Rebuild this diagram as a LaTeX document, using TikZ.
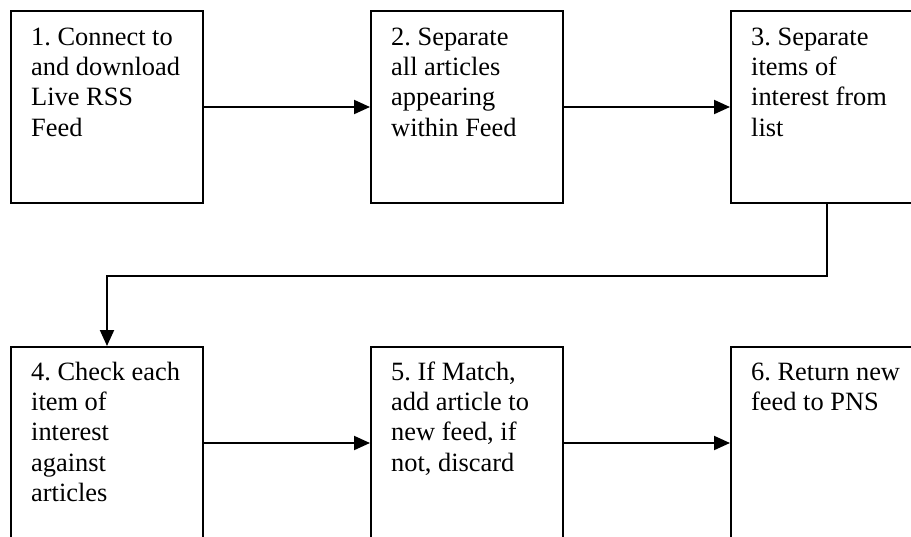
\documentclass[tikz,border=0pt]{standalone}
\usepackage{fontspec}
\setmainfont{Liberation Serif}
\usetikzlibrary{arrows.meta}
\frenchspacing

\tikzset{
  stepbox/.style={draw, line width=2pt, minimum width=192pt, minimum height=192pt,
    inner sep=0pt, anchor=north west},
  steptext/.style={anchor=base west, inner sep=0pt, align=left,
    font=\fontsize{26.4}{30.4}\selectfont},
  flow/.style={line width=2pt, -{Triangle[length=16pt,width=14pt]}}
}

\begin{document}
\begin{tikzpicture}[x=1pt, y=-1pt]
  \useasboundingbox (0,0) rectangle (911,536);
  \clip (0,0) rectangle (911,536);

  % boxes of the process
  \node[stepbox] (b1) at (10,10) {};
  \node[stepbox] (b2) at (370,10) {};
  \node[stepbox] (b3) at (730,10) {};
  \node[stepbox] (b4) at (10,346) {};
  \node[stepbox] (b5) at (370,346) {};
  \node[stepbox] (b6) at (730,346) {};

  % step descriptions (anchored at the baseline of their last line)
  \node[steptext] (t1) at ([xshift=21pt, yshift=-126.2pt]b1.north west) {1. Connect to\\and download\\Live RSS\\Feed};
  \node[steptext] (t2) at ([xshift=21pt, yshift=-126.2pt]b2.north west) {2. Separate\\all articles\\appearing\\within Feed};
  \node[steptext] (t3) at ([xshift=21pt, yshift=-126.2pt]b3.north west) {3. Separate\\items of\\interest from\\list};
  \node[steptext] (t4) at ([xshift=21pt, yshift=-155.6pt]b4.north west) {4. Check each\\item of\\interest\\against\\articles};
  \node[steptext] (t5) at ([xshift=21pt, yshift=-125.2pt]b5.north west) {5. If Match,\\add article to\\new feed, if\\not, discard};
  \node[steptext] (t6) at ([xshift=21pt, yshift=-64.4pt]b6.north west) {6. Return new\\feed to PNS};

  % connectors
  \draw[flow] (b1.east) -- (b2.west);
  \draw[flow] (b2.east) -- (b3.west);
  \coordinate (turn) at ([yshift=-72pt]b3.south);
  \draw[flow] (b3.south) -- (turn) -| (b4.north);
  \draw[flow] (b4.east) -- (b5.west);
  \draw[flow] (b5.east) -- (b6.west);
\end{tikzpicture}
\end{document}
